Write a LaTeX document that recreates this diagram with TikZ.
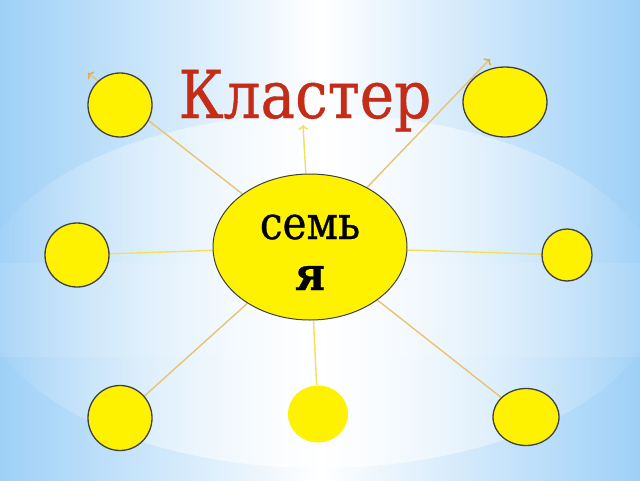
\documentclass[tikz,border=0pt]{standalone}
\usepackage{fontspec}
\setmainfont{DejaVu Serif}[FakeStretch=0.88,FakeBold=0.6]
\usetikzlibrary{arrows,arrows.meta,positioning,shapes,fadings}
\pgfdeclarelayer{back}
\pgfdeclarelayer{mid}
\pgfsetlayers{back,mid,main}
\definecolor{skyblue}{RGB}{158,208,247}
\definecolor{titlered}{RGB}{196,44,24}
\definecolor{rayyellow}{RGB}{240,224,90}
\definecolor{raytan}{RGB}{232,196,112}
\definecolor{tipgold}{RGB}{230,170,50}
\definecolor{rimgray}{RGB}{64,64,64}
\tikzfading[name=sidefade,left color=transparent!100,right color=transparent!100,middle color=transparent!0]
\tikzset{
  sun/.style={ellipse,fill=yellow,draw=rimgray,line width=1.3pt,inner sep=0pt},
  ray/.style={rayyellow,line width=1.4pt},
  slantray/.style={raytan,line width=1.4pt},
  goldtip/.style={-{To[color=tipgold]}}
}

\begin{document}
\begin{tikzpicture}[x=1pt,y=-1pt,line join=round]
\useasboundingbox (0,0) rectangle (640,480);
\begin{pgfonlayer}{back}
\shade[left color=skyblue,right color=skyblue,middle color=white] (0,0) rectangle (640,480);
\fill[white,opacity=0.1] (0,263) rectangle (640,357);
\fill[white,opacity=0.75,path fading=sidefade,fit fading=true] (320,291) ellipse [x radius=340pt,y radius=177pt];
\end{pgfonlayer}
% title
\node[anchor=base,text=titlered,font=\fontsize{66}{70}\selectfont] (title) at (305,118) {Кластер};
% centre
\node[sun,line width=1pt,minimum width=194,minimum height=146] (c) at (310,247) {};
\node[anchor=base,font=\fontsize{46}{50}\selectfont] (word) at (310,239) {семь};
\node[anchor=base,font=\fontsize{46}{50}\selectfont\bfseries] (tail) at (310,290) {я};
% small suns
\node[sun,minimum width=64,minimum height=64] (ul) at (120,105) {};
\node[sun,minimum width=84,minimum height=70] (ur) at (505,102) {};
\node[sun,minimum width=64,minimum height=64] (l)  at (77,255)  {};
\node[sun,minimum width=50,minimum height=52] (r)  at (567,255) {};
\node[sun,minimum width=64,minimum height=65] (bl) at (120,418) {};
\node[sun,draw=none,minimum width=60,minimum height=57] (b) at (318,414) {};
\node[sun,minimum width=66,minimum height=57] (br) at (526,417) {};
\coordinate (ultip) at (88,73);
\coordinate (toptip) at (303,125);
\coordinate (urtip) at (490,59);
% rays
\begin{pgfonlayer}{mid}
\draw[slantray,goldtip] (c)--(ultip);
\draw[ray,->] (c)--(toptip);
\draw[slantray,goldtip] (c)--(urtip);
\draw[ray] (c)--(l);
\draw[ray] (c)--(r);
\draw[slantray] (c)--(bl);
\draw[ray] (c)--(b);
\draw[slantray] (c)--(br);
\end{pgfonlayer}
\end{tikzpicture}
\end{document}
